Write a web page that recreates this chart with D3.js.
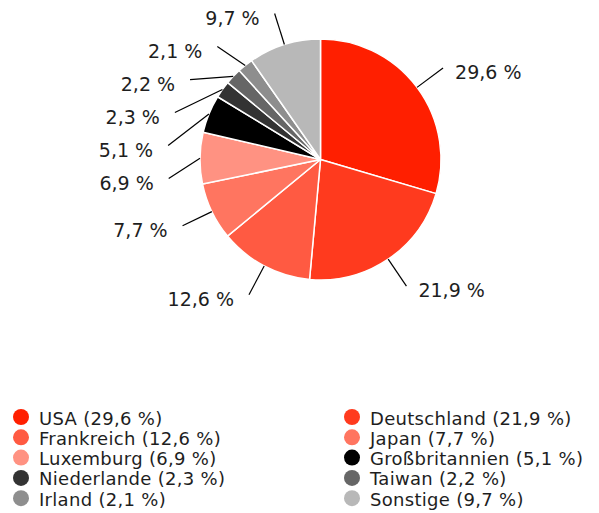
<!DOCTYPE html>
<html>
<head>
<meta charset="utf-8">
<script src="https://cdn.jsdelivr.net/npm/d3@7"></script>
<style>
  body { margin: 0; background: #fff; }
  svg { display: block; }
  text { font-family: "DejaVu Sans", sans-serif; fill: #1e1e1e; }
</style>
</head>
<body>
<div class="chart"></div>
<script>
// values in pie order (clockwise from 12 o'clock)
const COUNTRIES = ["USA", "Deutschland", "Frankreich", "Japan", "Luxemburg",
  "Großbritannien", "Niederlande", "Taiwan", "Irland", "Sonstige"];
const SHARES = [29.6, 21.9, 12.6, 7.7, 6.9, 5.1, 2.3, 2.2, 2.1, 9.7];
const COLORS = ["#ff1f00", "#ff3a1e", "#ff5a42", "#ff7560", "#ff9282",
  "#000000", "#333333", "#666666", "#8e8e8e", "#b8b8b8"];
// legend reads row by row, two columns
const LEGEND_ORDER = ["USA", "Deutschland", "Frankreich", "Japan", "Luxemburg",
  "Großbritannien", "Niederlande", "Taiwan", "Irland", "Sonstige"];

const WIDTH = 599;
const HEIGHT = 513;
const CX = 320.5;
const CY = 159.5;
const RADIUS = 120.5;
const LINE_R = 153;
const MIN_GAP = 33;

const fmt = v => String(v).replace(".", ",") + " %";

const data = COUNTRIES.map((c, i) => ({ country: c, share: SHARES[i], color: COLORS[i] }));

const svg = d3.select(".chart").append("svg")
  .attr("width", WIDTH)
  .attr("height", HEIGHT);

const pie = d3.pie().sort(null).value(d => d.share);
const arcs = pie(data);
const arc = d3.arc().innerRadius(0).outerRadius(RADIUS);

const g = svg.append("g").attr("transform", `translate(${CX},${CY})`);

g.selectAll("path")
  .data(arcs)
  .join("path")
  .attr("d", arc)
  .attr("fill", d => d.data.color)
  .attr("stroke", "#fff")
  .attr("stroke-width", 1.5)
  .attr("stroke-linejoin", "round");

// label positions: start on the slice edge, end on a bigger circle,
// left-hand labels pushed down so they don't overlap
const labels = arcs.map(a => {
  const mid = (a.startAngle + a.endAngle) / 2;
  return {
    a,
    mid,
    side: Math.sin(mid) >= 0 ? "right" : "left",
    x0: RADIUS * Math.sin(mid),
    y0: -RADIUS * Math.cos(mid),
    y1: -LINE_R * Math.cos(mid),
  };
});

["left", "right"].forEach(side => {
  const items = labels.filter(l => l.side === side).sort((p, q) => p.y1 - q.y1);
  for (let i = 1; i < items.length; i++) {
    if (items[i].y1 - items[i - 1].y1 < MIN_GAP) items[i].y1 = items[i - 1].y1 + MIN_GAP;
  }
  items.forEach(l => {
    const dx = Math.sqrt(Math.max(0, LINE_R * LINE_R - l.y1 * l.y1));
    l.x1 = side === "right" ? dx : -dx;
  });
});

g.selectAll("line.leader")
  .data(labels)
  .join("line")
  .attr("class", "leader")
  .attr("x1", d => d.x0)
  .attr("y1", d => d.y0)
  .attr("x2", d => d.x1)
  .attr("y2", d => d.y1)
  .attr("stroke", "#000")
  .attr("stroke-width", 1.2);

g.selectAll("text.val")
  .data(labels)
  .join("text")
  .attr("class", "val")
  .attr("x", d => d.side === "right" ? d.x1 + 12 : d.x1 - 15)
  .attr("y", d => d.y1 + 4)
  .attr("text-anchor", d => d.side === "right" ? "start" : "end")
  .attr("dominant-baseline", "central")
  .attr("font-size", 19)
  .text(d => fmt(d.a.data.share));

// legend
const legendX = [21, 352];
const legendY0 = 417;
const rowH = 20.3;
const legend = svg.append("g").attr("class", "legend");

const rows = legend.selectAll("g")
  .data(LEGEND_ORDER.map(c => data.find(d => d.country === c)))
  .join("g")
  .attr("transform", (d, i) => `translate(${legendX[i % 2]},${legendY0 + Math.floor(i / 2) * rowH})`);

rows.append("circle")
  .attr("r", 8)
  .attr("fill", d => d.color);

rows.append("text")
  .attr("x", 18)
  .attr("y", 1)
  .attr("dominant-baseline", "central")
  .attr("font-size", 18)
  .attr("letter-spacing", 0.3)
  .attr("fill", "#333")
  .text(d => `${d.country} (${fmt(d.share)})`);
</script>
</body>
</html>
